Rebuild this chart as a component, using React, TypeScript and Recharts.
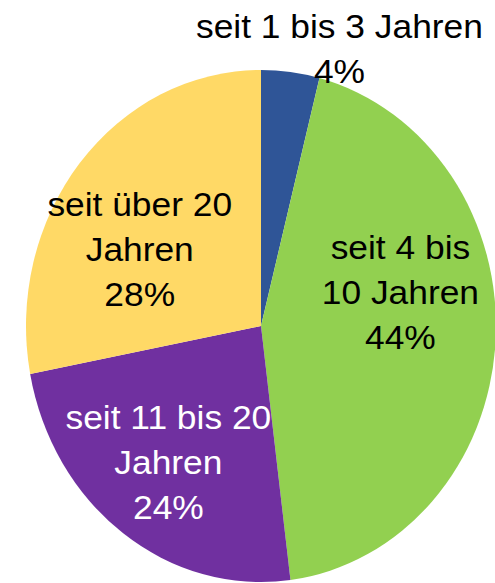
import { Cell, Pie, PieChart } from 'recharts';

const categories = ['seit 1 bis 3 Jahren', 'seit 4 bis 10 Jahren', 'seit 11 bis 20 Jahren', 'seit über 20 Jahren'];
const shares = [4, 44, 24, 28];
const labelLines = [['seit 1 bis 3 Jahren'], ['seit 4 bis', '10 Jahren'], ['seit 11 bis 20', 'Jahren'], ['seit über 20', 'Jahren']];
const colors = ['#2F5597', '#92D050', '#7030A0', '#FFD966'];
const textColors = ['#000000', '#000000', '#ffffff', '#000000'];

const data = categories.map((name, i) => ({ name, value: shares[i] }));

// the original pie is a stretched ellipse, so the svg is drawn round and scaled
const SY = 256 / 235;
const TX = 1.04;
const FONT = 34;
const LINE = 45;
// label placement: radius factor + nudge in page pixels (excel "best fit")
const LABEL_R = [1.0, 0.62, 0.62, 0.62];
const LABEL_NUDGE = [
  [49, -24],
  [-6, -44],
  [-7, 8],
  [-9, 24],
];

const RAD = Math.PI / 180;

function renderLabel(props: any) {
  const { cx, cy, midAngle, outerRadius, index, value } = props;
  const r = outerRadius * LABEL_R[index];
  const x = cx + r * Math.cos(-midAngle * RAD) + LABEL_NUDGE[index][0];
  // y in page pixels
  const y = (cy + r * Math.sin(-midAngle * RAD)) * SY + LABEL_NUDGE[index][1];
  const lines = [...labelLines[index], `${value}%`];
  const n = lines.length;
  return (
    <g transform={`translate(${x},${y / SY}) scale(${TX},${1 / SY})`}>
      {lines.map((t, i) => (
        <text
          key={i}
          x={0}
          y={(i - (n - 1) / 2) * LINE + 12}
          textAnchor="middle"
          fill={textColors[index]}
          fontSize={FONT}
          fontFamily="'Liberation Sans', Arial, sans-serif"
        >
          {t}
        </text>
      ))}
    </g>
  );
}

export default function App() {
  return (
    <div style={{ position: 'absolute', left: 0, top: 0, width: 495, height: 583, overflow: 'hidden', background: '#fff' }}>
      <div style={{ transform: `scaleY(${SY})`, transformOrigin: '0 0' }}>
        <PieChart width={495} height={Math.round(583 / SY)} margin={{ top: 0, right: 0, bottom: 0, left: 0 }}>
          <Pie
            data={data}
            dataKey="value"
            nameKey="name"
            cx={261}
            cy={326 / SY}
            outerRadius={235}
            startAngle={90}
            endAngle={-270}
            stroke="none"
            label={renderLabel}
            labelLine={false}
            isAnimationActive={false}
          >
            {data.map((d, i) => (
              <Cell key={d.name} fill={colors[i]} />
            ))}
          </Pie>
        </PieChart>
      </div>
    </div>
  );
}
